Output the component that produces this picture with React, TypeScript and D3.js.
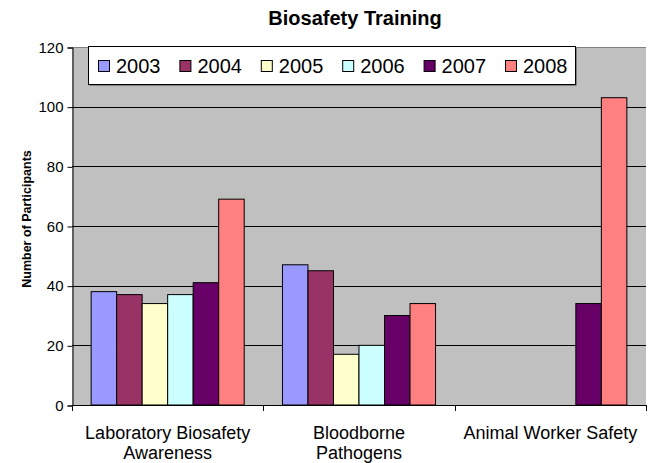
import React, {useEffect, useRef} from "react";
import * as d3 from "d3";

const categories = [["Laboratory Biosafety", "Awareness"], ["Bloodborne", "Pathogens"], ["Animal Worker Safety"]];
const years = ["2003", "2004", "2005", "2006", "2007", "2008"];
const colors = ["#9999FF", "#993366", "#FFFFCC", "#CCFFFF", "#660066", "#FF8080"];

// one array per course, in the order of years
const labAwareness = [38, 37, 34, 37, 41, 69];
const bloodborne = [47, 45, 17, 20, 30, 34];
const animalWorker = [0, 0, 0, 0, 34, 103];
const seriesValues = [labAwareness, bloodborne, animalWorker];

const yTicks = [0, 20, 40, 60, 80, 100, 120];

const W = 651, H = 463;
const margin = {left: 72, right: 5, top: 47, bottom: 58};

const App = () => {

    const ref = useRef<SVGSVGElement>(null);

    useEffect(() => {
        if (!ref.current) return;
        const svg = d3.select(ref.current);
        svg.selectAll("*").remove();

        const x0 = d3.scaleBand<number>()
            .domain(categories.map((c, i) => i))
            .range([margin.left, W - margin.right])
            .paddingInner(0.2)
            .paddingOuter(0.1);

        const x1 = d3.scaleBand<string>()
            .domain(years)
            .range([0, x0.bandwidth()]);

        const y = d3.scaleLinear()
            .domain([0, 120])
            .range([H - margin.bottom, margin.top]);

        // plot background
        svg.append("rect")
            .attr("x", margin.left)
            .attr("y", y(120))
            .attr("width", W - margin.right - margin.left)
            .attr("height", y(0) - y(120))
            .attr("fill", "#C0C0C0");

        // gray border on top of plot area
        svg.append("line")
            .attr("x1", margin.left)
            .attr("x2", W - margin.right)
            .attr("y1", Math.round(y(120)) + 0.5)
            .attr("y2", Math.round(y(120)) + 0.5)
            .attr("stroke", "#808080");

        // gridlines
        svg.append("g")
            .selectAll("line")
            .data(yTicks.filter(d => d > 0 && d < 120))
            .join("line")
            .attr("x1", margin.left)
            .attr("x2", W - margin.right)
            .attr("y1", d => Math.round(y(d)) + 0.5)
            .attr("y2", d => Math.round(y(d)) + 0.5)
            .attr("stroke", "#000");

        // bars
        const groups = svg.append("g")
            .selectAll("g")
            .data(seriesValues)
            .join("g")
            .attr("transform", (d, i) => `translate(${x0(i)},0)`);

        groups.selectAll("rect")
            .data(vals => vals.map((v, j) => ({v, j})).filter(d => d.v > 0))
            .join("rect")
            .attr("x", d => x1(years[d.j])!)
            .attr("y", d => y(d.v))
            .attr("width", x1.bandwidth())
            .attr("height", d => y(0) - y(d.v))
            .attr("fill", d => colors[d.j])
            .attr("stroke", "#000")
            .attr("stroke-width", 1);

        // y axis
        const yAxis = d3.axisLeft(y)
            .tickValues(yTicks)
            .tickSize(5)
            .tickPadding(4);

        const yg = svg.append("g")
            .attr("transform", `translate(${margin.left + 0.5},0.5)`)
            .call(yAxis);
        yg.select(".domain").attr("stroke", "#000");
        yg.selectAll("text")
            .attr("font-family", "Liberation Sans, Arial, sans-serif")
            .attr("font-size", 15)
            .attr("fill", "#000");

        // x axis line and category ticks
        const xLine = svg.append("g");
        xLine.append("line")
            .attr("x1", margin.left)
            .attr("x2", W - margin.right)
            .attr("y1", Math.round(y(0)) + 0.5)
            .attr("y2", Math.round(y(0)) + 0.5)
            .attr("stroke", "#000");
        const step = x0.step();
        xLine.selectAll("line.tick")
            .data(d3.range(categories.length + 1))
            .join("line")
            .attr("class", "tick")
            .attr("x1", i => Math.round(margin.left + i * step) + 0.5)
            .attr("x2", i => Math.round(margin.left + i * step) + 0.5)
            .attr("y1", y(0))
            .attr("y2", y(0) + 6)
            .attr("stroke", "#000");

        // category labels
        const labels = svg.append("g")
            .attr("font-family", "Liberation Sans, Arial, sans-serif")
            .attr("font-size", 18)
            .attr("text-anchor", "middle")
            .selectAll("text")
            .data(categories)
            .join("text")
            .attr("x", (d, i) => x0(i)! + x0.bandwidth() / 2)
            .attr("y", 439);
        labels.selectAll("tspan")
            .data(d => d)
            .join("tspan")
            .attr("x", function () {
                return (this.parentNode as SVGTextElement).getAttribute("x");
            })
            .attr("dy", (d, i) => i === 0 ? 0 : 20)
            .text(d => d);

        // title
        svg.append("text")
            .attr("x", 355)
            .attr("y", 25)
            .attr("text-anchor", "middle")
            .attr("font-family", "Liberation Sans, Arial, sans-serif")
            .attr("font-size", 20)
            .attr("font-weight", "bold")
            .text("Biosafety Training");

        // y axis title
        svg.append("text")
            .attr("transform", "translate(31,219) rotate(-90)")
            .attr("text-anchor", "middle")
            .attr("font-family", "Liberation Sans, Arial, sans-serif")
            .attr("font-size", 12.5)
            .attr("font-weight", "bold")
            .text("Number of Participants");

        // legend
        const legend = svg.append("g");
        legend.append("rect")
            .attr("x", 89.5)
            .attr("y", 47.5)
            .attr("width", 487)
            .attr("height", 38)
            .attr("fill", "#404040");
        legend.append("rect")
            .attr("x", 88.5)
            .attr("y", 46.5)
            .attr("width", 487)
            .attr("height", 38)
            .attr("fill", "#fff")
            .attr("stroke", "#000");

        const items = legend.selectAll("g.item")
            .data(years)
            .join("g")
            .attr("class", "item")
            .attr("transform", (d, i) => `translate(${98 + i * 81.4},0)`);
        items.append("rect")
            .attr("x", 0.5)
            .attr("y", 60.5)
            .attr("width", 11)
            .attr("height", 11)
            .attr("fill", (d, i) => colors[i])
            .attr("stroke", "#000");
        items.append("text")
            .attr("x", 18)
            .attr("y", 73)
            .attr("font-family", "Liberation Sans, Arial, sans-serif")
            .attr("font-size", 20)
            .text(d => d);

    }, [ref]);

    return (
        <svg ref={ref} width={W} height={H}
             style={{position: "absolute", left: 0, top: 0, background: "#fff"}}></svg>
    );
}

export default App;
